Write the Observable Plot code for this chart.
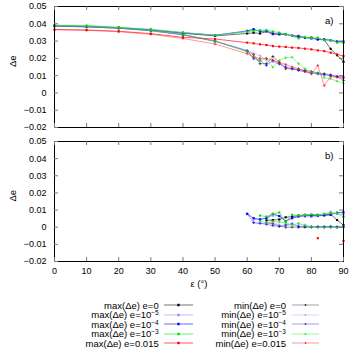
<!DOCTYPE html>
<html><head><meta charset="utf-8">
<script src="https://cdn.jsdelivr.net/npm/d3@7"></script>
<script src="https://cdn.jsdelivr.net/npm/@observablehq/plot@0.6"></script>
<style>
body{margin:0;background:#fff;font-family:"Liberation Sans",Arial,sans-serif;}
#wrap{position:relative;width:354px;height:354px;overflow:hidden;background:#fff}
#top,#bot,#leg{position:absolute;left:0}
#top{top:0}
#bot{top:134px}
#leg{top:298px;width:354px;height:56px}
.lt{position:absolute;font-size:9.5px;color:#000;white-space:nowrap;text-align:right;line-height:9px;height:9px}
.lt sup{font-size:6.5px;vertical-align:3px;line-height:0}
.ls{position:absolute}
</style></head><body><div id="wrap"><div id="top"></div><div id="bot"></div><div id="leg"></div></div>
<script>
// ---------- data ----------
const epsilon = [0,10,20,30,40,50,60,62,64,66,68,70,72,74,76,78,80,82,84,86,88,90];
const xTicks = [0,10,20,30,40,50,60,70,80,90];
const yTicks = [-0.02,-0.01,0,0.01,0.02,0.03,0.04,0.05];
const seriesNames = ["e=0","e=10^-5","e=10^-4","e=10^-3","e=0.015"];

// panel a)
const aMaxE0   = [0.0388,0.0384,0.0377,0.0364,0.0345,0.0330,0.0344,0.0348,0.0344,0.0355,0.0340,0.0340,0.0340,0.0330,0.0330,0.0320,0.0320,0.0310,0.0307,0.0255,0.0218,0.0180];
const aMinE0   = [0.0386,0.0382,0.0374,0.0360,0.0336,0.0300,0.0240,0.0222,0.0169,0.0169,0.0211,0.0178,0.0140,0.0140,0.0137,0.0130,0.0124,0.0115,0.0111,0.0105,0.0095,0.0072];
const aMaxE5   = [0.0390,0.0386,0.0378,0.0366,0.0348,0.0335,0.0355,0.0365,0.0357,0.0355,0.0345,0.0342,0.0340,0.0333,0.0326,0.0320,0.0316,0.0312,0.0308,0.0303,0.0299,0.0295];
const aMinE5   = [0.0388,0.0383,0.0375,0.0361,0.0338,0.0302,0.0245,0.0230,0.0215,0.0190,0.0180,0.0165,0.0150,0.0138,0.0130,0.0122,0.0116,0.0110,0.0105,0.0100,0.0098,0.0095];
const aMaxE4   = [0.0389,0.0385,0.0377,0.0365,0.0347,0.0333,0.0359,0.0369,0.0355,0.0359,0.0344,0.0340,0.0340,0.0330,0.0324,0.0320,0.0316,0.0310,0.0310,0.0305,0.0297,0.0297];
const aMinE4   = [0.0387,0.0383,0.0374,0.0360,0.0337,0.0298,0.0245,0.0198,0.0188,0.0159,0.0188,0.0169,0.0150,0.0140,0.0130,0.0124,0.0115,0.0111,0.0105,0.0100,0.0095,0.0091];
const aMaxE3   = [0.0392,0.0390,0.0380,0.0368,0.0350,0.0334,0.0355,0.0359,0.0363,0.0363,0.0355,0.0349,0.0340,0.0330,0.0316,0.0324,0.0316,0.0320,0.0305,0.0305,0.0291,0.0291];
const aMinE3   = [0.0389,0.0385,0.0376,0.0362,0.0338,0.0300,0.0240,0.0207,0.0188,0.0198,0.0149,0.0188,0.0203,0.0207,0.0169,0.0140,0.0120,0.0115,0.0088,0.0082,0.0068,0.0056];
const aMaxE015 = [0.0367,0.0364,0.0357,0.0343,0.0322,0.0312,0.0291,0.0287,0.0281,0.0277,0.0271,0.0268,0.0266,0.0262,0.0260,0.0256,0.0252,0.0246,0.0242,0.0233,0.0223,0.0213];
const aMinE015 = [0.0365,0.0362,0.0354,0.0339,0.0315,0.0283,0.0227,0.0207,0.0200,0.0200,0.0190,0.0175,0.0165,0.0150,0.0140,0.0125,0.0110,0.0159,0.0042,0.0095,0.0090,0.0085];

// panel b)
const _ = null;
const bMaxE0   = [_,_,_,_,_,_,_,_,_,0.0040,0.0042,0.0045,0.0058,0.0062,0.0068,0.0072,0.0072,0.0072,0.0072,0.0075,0.0042,0.0012];
const bMinE0   = [_,_,_,_,_,_,_,_,_,0.0025,0.0020,0.0008,0.0000,0.0000,0.0000,0.0000,0.0000,0.0000,0.0000,0.0000,0.0000,0.0000];
const bMaxE5   = [_,_,_,_,_,_,_,0.0045,0.0048,0.0055,0.0068,0.0065,0.0035,0.0050,0.0065,0.0062,0.0060,0.0065,0.0072,0.0090,0.0078,0.0075];
const bMinE5   = [_,_,_,_,_,_,_,0.0025,0.0022,0.0022,0.0030,0.0012,0.0012,0.0003,0.0013,0.0013,0.0003,0.0003,0.0003,0.0003,0.0002,0.0002];
const bMaxE4   = [_,_,_,_,_,_,0.0078,0.0053,0.0045,0.0053,0.0078,0.0065,0.0035,0.0055,0.0062,0.0068,0.0068,0.0068,0.0068,0.0072,0.0085,0.0087];
const bMinE4   = [_,_,_,_,_,_,0.0078,0.0027,0.0023,0.0017,0.0009,0.0004,0.0013,0.0020,0.0004,0.0003,0.0003,0.0003,0.0003,0.0005,0.0002,0.0000];
const bMaxE3   = [_,_,_,_,_,_,_,_,0.0068,0.0062,0.0076,0.0086,0.0032,0.0072,0.0068,0.0072,0.0075,0.0072,0.0078,0.0082,0.0082,0.0060];
const bMinE3   = [_,_,_,_,_,_,_,_,0.0035,0.0025,0.0035,0.0030,0.0025,0.0013,0.0023,0.0010,0.0003,-0.0002,-0.0002,-0.0002,-0.0002,-0.0002];
const bMaxE015 = [_,_,_,_,_,_,_,_,_,_,_,_,_,_,_,_,_,-0.0064,_,_,_,-0.0080];
const bMinE015 = [_,_,_,_,_,_,_,_,_,_,_,_,_,_,_,_,_,_,_,_,_,_];

// ---------- styles ----------
const colors = ["#000000","#b07cff","#0000ff","#00e000","#ff0000"];
const lineColors = ["#444444","#c49cff","#3a3aff","#33ee33","#ff2a2a"];

const aMax = [aMaxE0,aMaxE5,aMaxE4,aMaxE3,aMaxE015];
const aMin = [aMinE0,aMinE5,aMinE4,aMinE3,aMinE015];
const bMax = [bMaxE0,bMaxE5,bMaxE4,bMaxE3,bMaxE015];
const bMin = [bMinE0,bMinE5,bMinE4,bMinE3,bMinE015];

function rows(arr){ return epsilon.map((e,j)=>({eps:e, v:arr[j]})); }

function seriesMarks(maxArrs, minArrs){
  const m = [];
  for (let i=0;i<5;i++){
    const mx = rows(maxArrs[i]), mn = rows(minArrs[i]);
    m.push(Plot.line(mx,{x:"eps",y:"v",stroke:lineColors[i],strokeWidth:1,strokeOpacity:0.75}));
    m.push(Plot.dot(mx,{x:"eps",y:"v",fill:colors[i],r:1.2,symbol:"square"}));
    m.push(Plot.line(mn,{x:"eps",y:"v",stroke:lineColors[i],strokeWidth:0.7,strokeOpacity:0.7}));
    m.push(Plot.dot(mn,{x:"eps",y:"v",stroke:colors[i],r:1.0,symbol:"plus",strokeWidth:0.6}));
  }
  return m;
}

const W = 289;
function panel(maxArrs, minArrs, tag, opts){
  const H = opts.height - opts.marginTop - opts.marginBottom;
  const marks = [
    ...seriesMarks(maxArrs, minArrs),
    Plot.frame({stroke:"#000",strokeWidth:1}),
    Plot.tickX(xTicks,{x:d=>d,insetTop:H-4,stroke:"#777"}),
    Plot.tickX(xTicks,{x:d=>d,insetBottom:H-4,stroke:"#777"}),
    Plot.tickY(yTicks,{y:d=>d,insetRight:W-4,stroke:"#777"}),
    Plot.tickY(yTicks,{y:d=>d,insetLeft:W-4,stroke:"#777"}),
    Plot.axisY(yTicks,{tickSize:0,tickPadding:8,tickFormat:d=>d3.format("")(d),fontSize:9,label:null}),
    Plot.text(["Δe"],{frameAnchor:"left",dx:-42,rotate:-90,fontSize:9.5}),
    Plot.text([tag],{frameAnchor:"top-right",dx:-10,dy:11,fontSize:9.5})
  ];
  if (opts.xlabels){
    marks.push(Plot.axisX(xTicks,{tickSize:0,tickPadding:6,tickFormat:d=>String(d),fontSize:9,label:null}));
    marks.push(Plot.text(["ε (°)"],{frameAnchor:"bottom",dy:25,fontSize:9.5}));
  }
  return Plot.plot({
    width:354, height:opts.height, marginLeft:54, marginRight:11,
    marginTop:opts.marginTop, marginBottom:opts.marginBottom,
    x:{domain:[0,90],axis:null},
    y:{domain:[-0.02,0.05],axis:null},
    style:{fontFamily:"'Liberation Sans',Arial,sans-serif",fontSize:"9px",color:"#000",background:"transparent",overflow:"visible"},
    marks
  });
}

document.getElementById("top").appendChild(panel(aMax,aMin,"a)",{height:135,marginTop:6,marginBottom:8}));
document.getElementById("bot").appendChild(panel(bMax,bMin,"b)",{height:162,marginTop:7,marginBottom:35,xlabels:true}));

// ---------- legend ----------
const leg = document.getElementById("leg");
function labelHTML(kind, name){
  const m = name.match(/^e=10\^(-?\d+)$/);
  const head = kind + "(Δe) ";
  if (m) return head + "e=10<sup>" + m[1].replace("-","−") + "</sup>";
  return head + name;
}
const rowY = [7,16.5,26,35.5,45];
seriesNames.forEach((name,i)=>{
  [["max",195.3,164,29],["min",68,292,27]].forEach(([kind,right,sx,sw])=>{
    const t = document.createElement("div");
    t.className="lt";
    t.style.right = right+"px";
    t.style.top = (rowY[i]-4.5)+"px";
    t.innerHTML = labelHTML(kind,name);
    leg.appendChild(t);
    const ns="http://www.w3.org/2000/svg";
    const s = document.createElementNS(ns,"svg");
    s.setAttribute("class","ls");
    s.setAttribute("width",sw); s.setAttribute("height",6);
    s.style.left = sx+"px"; s.style.top = (rowY[i]-3)+"px";
    const ln = document.createElementNS(ns,"line");
    ln.setAttribute("x1",0); ln.setAttribute("x2",sw); ln.setAttribute("y1",3); ln.setAttribute("y2",3);
    ln.setAttribute("stroke",lineColors[i]);
    ln.setAttribute("stroke-opacity", kind==="max"?0.75:0.7);
    ln.setAttribute("stroke-width", kind==="max"?1:0.7);
    s.appendChild(ln);
    if (kind==="max"){
      const r = document.createElementNS(ns,"rect");
      r.setAttribute("x",sw/2-1.2); r.setAttribute("y",1.8); r.setAttribute("width",2.4); r.setAttribute("height",2.4);
      r.setAttribute("fill",colors[i]);
      s.appendChild(r);
    } else {
      const p = document.createElementNS(ns,"path");
      p.setAttribute("d",`M${sw/2-1},3H${sw/2+1}M${sw/2},2V4`);
      p.setAttribute("stroke",colors[i]); p.setAttribute("stroke-width",0.6);
      s.appendChild(p);
    }
    leg.appendChild(s);
  });
});
</script></body></html>
